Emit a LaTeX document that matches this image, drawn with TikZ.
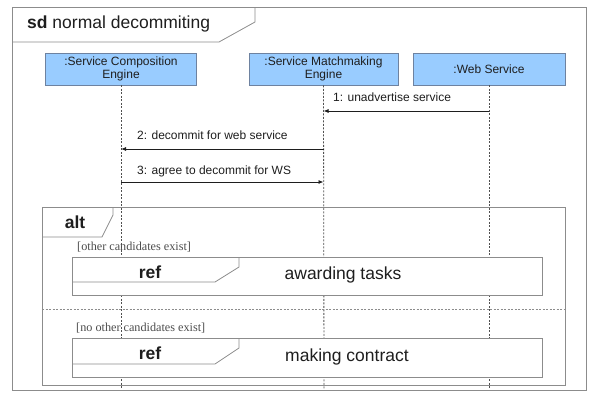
\documentclass[tikz,border=0pt]{standalone}
\usepackage{fontspec}
\setmainfont{Liberation Sans}
\newfontfamily\guardfont{Liberation Serif}
\usetikzlibrary{arrows.meta}
\definecolor{boxfill}{RGB}{153,204,255}
\definecolor{boxline}{RGB}{110,130,160}
\definecolor{frameline}{RGB}{140,140,140}
\definecolor{lifecol}{RGB}{80,80,80}
\definecolor{txtcol}{RGB}{30,30,30}
\tikzset{
  x=1pt, y=-1pt,
  frame/.style={draw=frameline, line width=0.8pt},
  lifebox/.style={draw=boxline, fill=boxfill, line width=0.8pt, minimum width=151pt, minimum height=32pt, inner sep=0pt, align=center, font=\fontsize{12}{12.5}\selectfont, text=txtcol},
  lifeline/.style={draw=lifecol, line width=0.8pt, dash pattern=on 2pt off 1.5pt},
  msg/.style={draw=txtcol, line width=0.8pt, -{Latex[length=5pt,width=4pt]}},
  msglabel/.style={anchor=west, inner sep=0pt, font=\fontsize{12}{12}\selectfont, text=txtcol},
  refbox/.style={frame, fill=white, minimum width=470pt, minimum height=38pt, inner sep=0pt, anchor=north west},
  bigtxt/.style={inner sep=0pt, font=\fontsize{17.5}{18}\selectfont, text=txtcol},
  guard/.style={anchor=west, inner sep=0pt, font=\guardfont\fontsize{12.2}{12}\selectfont, text=black!70},
}
\begin{document}
\begin{tikzpicture}
\useasboundingbox (0,0) rectangle (589,394);
% outer frame
\draw[frame] (12,7) rectangle (586,390);
\draw[frame] (255,7) -- (255,22) -- (219,42) -- (12,42);
\node[bigtxt, anchor=west] (title) at (27,24) {\textbf{sd} normal decommiting};

% lifeline heads
\node[lifebox] (sce) at (121,69) {:Service Composition\\Engine};
\node[lifebox, minimum width=149pt] (sme) at (323.5,69) {:Service Matchmaking\\Engine};
\node[lifebox, minimum width=152pt] (ws) at (489,69) {:Web Service};

% lifeline ends
\coordinate (sceend) at (121,389);
\coordinate (smeend) at (324,389);
\coordinate (wsend) at (489,389);
\draw[lifeline] (sce.south) -- (sceend);
\draw[lifeline] (sme.south) -- (smeend);
\draw[lifeline] (ws.south) -- (wsend);

% messages
\coordinate (m1a) at (ws.south |- 0,111);
\coordinate (m1b) at (sme.south |- 0,111);
\coordinate (m2a) at (sme.south |- 0,149);
\coordinate (m2b) at (sce.south |- 0,149);
\coordinate (m3a) at (sce.south |- 0,182);
\coordinate (m3b) at (sme.south |- 0,182);
\draw[msg] (m1a) -- (m1b);
\draw[msg] (m2a) -- (m2b);
\draw[msg] (m3a) -- (m3b);
\node[msglabel] (l1) at (333,97) {1: unadvertise service};
\node[msglabel] (l2) at (137,135) {2: decommit for web service};
\node[msglabel] (l3) at (137,171) {3: agree to decommit for WS};

% alt fragment
\draw[frame] (42,207) rectangle (565,385);
\draw[frame] (113,207) -- (113,215) -- (102,237) -- (42,237);
\node[bigtxt] (alt) at (75,222) {\textbf{alt}};
\draw[frame, dash pattern=on 2pt off 1.5pt] (42,309) -- (565,309);
\node[guard] (g1) at (77,247) {[other candidates exist]};
\node[guard] (g2) at (76,328) {[no other candidates exist]};

% ref 1
\node[refbox] (ref1) at (72,257) {};
\draw[frame] (239,257) -- (239,267) -- (215,282) -- (72,282);
\node[bigtxt] (ref1tag) at (150,272) {\textbf{ref}};
\node[bigtxt] (ref1txt) at (343,275) {awarding tasks};

% ref 2
\node[refbox, minimum height=39pt] (ref2) at (72,338) {};
\draw[frame] (239,338) -- (239,348) -- (215,364) -- (72,364);
\node[bigtxt] (ref2tag) at (150,353) {\textbf{ref}};
\node[bigtxt] (ref2txt) at (347,357) {making contract};
\end{tikzpicture}
\end{document}
